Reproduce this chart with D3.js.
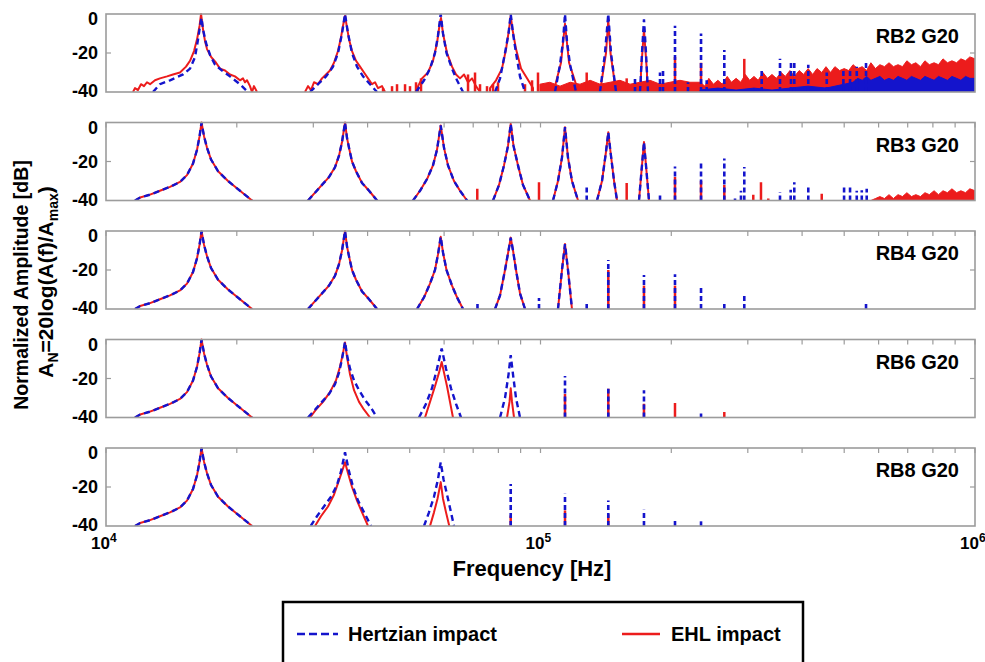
<!DOCTYPE html>
<html><head><meta charset="utf-8">
<script src="https://cdn.jsdelivr.net/npm/d3@7"></script>
<style>
body{margin:0;background:#fff}
svg{display:block}
text{font-family:Arial,"Liberation Sans",Helvetica,sans-serif;font-weight:bold;fill:#000}
</style>
</head><body>
<svg id="c" width="985" height="662"></svg>
<script>
// ---------------- DATA ----------------
const panelNames = ["RB2 G20", "RB3 G20", "RB4 G20", "RB6 G20", "RB8 G20"];
const yTickValues = [0, -20, -40];
const xTickLabels = [{v: 1e4, base: "10", exp: "4"}, {v: 1e5, base: "10", exp: "5"}, {v: 1e6, base: "10", exp: "6"}];
const seriesNames = ["Hertzian impact", "EHL impact"];

// shared peak shapes [frequency Hz, dB]
const peak1Shape = [[1.166e4,-40],[1.198e4,-38.5],[1.263e4,-37],[1.331e4,-35],[1.404e4,-33],[1.480e4,-30.5],[1.536e4,-27],[1.586e4,-21],[1.620e4,-14],[1.642e4,-7],[1.659e4,0],[1.681e4,-7],[1.708e4,-13],[1.745e4,-19],[1.811e4,-25],[1.909e4,-30],[2.034e4,-35],[2.168e4,-40]];
const peak2Shape = [[2.917e4,-40],[3.027e4,-36],[3.141e4,-32],[3.260e4,-28],[3.365e4,-23],[3.438e4,-17],[3.493e4,-10],[3.549e4,0],[3.587e4,-8],[3.625e4,-13],[3.683e4,-20],[3.762e4,-25],[3.884e4,-31],[4.031e4,-35],[4.205e4,-40]];

// RB2
const rb2HertzCurves = [
  [[1.2828e4,-40],[1.331e4,-36],[1.404e4,-34],[1.5041e4,-31],[1.5610e4,-28],[1.6030e4,-22],[1.6288e4,-13],[1.6462e4,-6],[1.659e4,-2],[1.6725e4,-8],[1.6994e4,-15],[1.7358e4,-21],[1.7823e4,-26],[1.8496e4,-29],[1.9289e4,-32],[2.034e4,-36],[2.1222e4,-40]],
  [[2.9478e4,-40],[3.0756e4,-36],[3.2087e4,-32],[3.3300e4,-27],[3.4195e4,-20],[3.493e4,-10],[3.549e4,0],[3.6060e4,-10],[3.683e4,-20],[3.7819e4,-27],[3.9043e4,-32],[4.0518e4,-36],[4.205e4,-40]],
  [[5.170e4,-40],[5.394e4,-34],[5.568e4,-28],[5.717e4,-20],[5.809e4,-11],[5.893e4,0],[5.965e4,-10],[6.077e4,-20],[6.257e4,-28],[6.425e4,-34],[6.633e4,-40]],
  [[7.859e4,-40],[8.070e4,-33],[8.286e4,-20],[8.441e4,-10],[8.540e4,0],[8.645e4,-10],[8.783e4,-20],[8.971e4,-32],[9.212e4,-40]],
  [[1.0798e5,-40],[1.1089e5,-26],[1.1267e5,-14],[1.1386e5,0],[1.1506e5,-14],[1.1695e5,-26],[1.2072e5,-40]],
  [[1.3706e5,-40],[1.4075e5,-20],[1.4322e5,0],[1.4529e5,-20],[1.4923e5,-40]],
  [[1.6943e5,-40],[1.7124e5,-20],[1.7304e5,-2.7],[1.7490e5,-20],[1.7676e5,-40]]
];
const rb2EhlCurves = [
  [[1.1538e4,-40],[1.166e4,-38],[1.1848e4,-39],[1.2037e4,-36],[1.2230e4,-37],[1.2426e4,-35],[1.263e4,-36],[1.2965e4,-34],[1.331e4,-33],[1.3819e4,-32],[1.4261e4,-31],[1.480e4,-30],[1.5282e4,-27],[1.5610e4,-24],[1.5945e4,-19],[1.620e4,-13],[1.642e4,-6],[1.6549e4,0],[1.6725e4,-8],[1.6904e4,-14],[1.708e4,-18],[1.745e4,-22],[1.7917e4,-25],[1.8301e4,-28],[1.8793e4,-29],[1.9289e4,-31],[1.9807e4,-32],[2.034e4,-34],[2.0667e4,-33],[2.0887e4,-35],[2.1110e4,-34],[2.1448e4,-37],[2.168e4,-40],[2.1907e4,-37],[2.2259e4,-40]],
  [[2.8708e4,-40],[2.917e4,-37],[2.9635e4,-39],[3.0110e4,-35],[3.0756e4,-36],[3.141e4,-33],[3.2087e4,-31],[3.2775e4,-29],[3.3477e4,-25],[3.4195e4,-19],[3.4743e4,-12],[3.5113e4,-6],[3.549e4,-1],[3.587e4,-7],[3.625e4,-13],[3.683e4,-19],[3.762e4,-24],[3.8427e4,-27],[3.9251e4,-30],[4.0091e4,-33],[4.0950e4,-36],[4.1606e4,-35],[4.2272e4,-38],[4.3178e4,-37],[4.3870e4,-40]],
  [[5.225e4,-40],[5.225e4,-37],[5.337e4,-33],[5.509e4,-30],[5.657e4,-24],[5.778e4,-15],[5.871e4,-4],[5.902e4,-2],[5.965e4,-10],[6.093e4,-20],[6.257e4,-27],[6.391e4,-31],[6.528e4,-33],[6.668e4,-31],[6.811e4,-35],[6.957e4,-33],[7.104e4,-37],[7.258e4,-40]],
  [[7.654e4,-40],[7.654e4,-38],[7.901e4,-34],[8.155e4,-28],[8.330e4,-18],[8.463e4,-8],[8.540e4,-1],[8.622e4,-8],[8.783e4,-18],[9.019e4,-28],[9.310e4,-33],[9.611e4,-38],[9.611e4,-40]],
  [[1.0798e5,-40],[1.0798e5,-37],[1.1148e5,-25],[1.1386e5,-5],[1.1633e5,-25],[1.2072e5,-36],[1.2072e5,-40]],
  [[1.3706e5,-40],[1.4150e5,-20],[1.4322e5,-3],[1.4491e5,-20],[1.4923e5,-40]],
  [[1.703e5,-40],[1.703e5,-30],[1.7304e5,-8],[1.7582e5,-30],[1.7582e5,-40]]
];
const rb2HertzSpikes = [[1.6500e5,-33],[1.8839e5,-30],[1.9141e5,-29],[2.0396e5,-6],[2.1852e5,-35],[2.3413e5,-10],[2.4129e5,-34],[2.6486e5,-18.5],[3.2288e5,-28],[3.558e5,-23],[3.7713e5,-25],[3.8378e5,-24],[4.1331e5,-26],[4.5582e5,-30],[4.9783e5,-28],[5.1573e5,-29],[5.3436e5,-27],[5.613e5,-24]];
const rb2EhlSpikes = [[4.341e4,-38],[4.553e4,-37],[4.675e4,-36],[4.878e4,-36],[5.008e4,-37],[5.170e4,-35],[5.309e4,-33],[6.811e4,-31],[7.068e4,-30],[7.258e4,-36],[7.532e4,-37],[7.776e4,-36],[7.985e4,-35],[9.212e4,-36],[9.562e4,-34],[9.868e4,-30],[1.2774e5,-30],[1.5788e5,-33],[2.0396e5,-22],[2.3413e5,-25],[2.9445e5,-23]];
const rb2EhlNoise = [[9.97e4,-40],[9.97e4,-36],[1.051e5,-35],[1.109e5,-37],[1.170e5,-35],[1.233e5,-36],[1.301e5,-34],[1.371e5,-36],[1.446e5,-35],[1.524e5,-34],[1.607e5,-36],[1.694e5,-35],[1.787e5,-34],[1.884e5,-36],[1.986e5,-35],[2.094e5,-34],[2.208e5,-35],
  [2.33e5,-35],[2.39e5,-37],[2.44e5,-33],[2.50e5,-36],[2.56e5,-34],[2.62e5,-36],[2.69e5,-32],[2.75e5,-35],[2.82e5,-33],[2.89e5,-35],[2.96e5,-31],[3.03e5,-34],[3.10e5,-32],[3.17e5,-34],[3.25e5,-30],[3.33e5,-33],[3.41e5,-31],[3.49e5,-33],[3.58e5,-30],[3.66e5,-32],[3.75e5,-29],[3.84e5,-32],[3.94e5,-29],[4.03e5,-31],[4.13e5,-28],[4.23e5,-31],[4.33e5,-28],[4.44e5,-30],[4.54e5,-27],[4.65e5,-30],[4.76e5,-27],[4.88e5,-29],[5.00e5,-28],[5.12e5,-29],[5.24e5,-26],[5.37e5,-28],[5.50e5,-27],[5.63e5,-29],[5.76e5,-25],[5.90e5,-28],[6.04e5,-26],[6.19e5,-27],[6.34e5,-25],[6.49e5,-27],[6.65e5,-26],[6.81e5,-27],[6.97e5,-24],[7.14e5,-26],[7.31e5,-25],[7.49e5,-27],[7.67e5,-24],[7.85e5,-26],[8.05e5,-25],[8.24e5,-26],[8.44e5,-23],[8.64e5,-25],[8.85e5,-24],[9.07e5,-25],[9.28e5,-23],[9.51e5,-24],[9.73e5,-22],[1.0e6,-23],[1.0e6,-40]];
const rb2HertzNoise = [[2.33e5,-40],[2.33e5,-39],[2.56e5,-38],[2.82e5,-39],[3.10e5,-38],[3.41e5,-39],[3.75e5,-38],[4.13e5,-37],[4.54e5,-38],[5.00e5,-36],[5.24e5,-35],[5.37e5,-33],[5.50e5,-34],[5.63e5,-32],[5.76e5,-34],[5.90e5,-33],[6.04e5,-32],[6.19e5,-34],[6.34e5,-33],[6.49e5,-34],[6.65e5,-32],[6.81e5,-33],[6.97e5,-34],[7.14e5,-32],[7.31e5,-33],[7.49e5,-34],[7.67e5,-32],[7.85e5,-33],[8.05e5,-34],[8.24e5,-32],[8.44e5,-33],[8.64e5,-34],[8.85e5,-32],[9.07e5,-33],[9.28e5,-34],[9.51e5,-32],[9.73e5,-33],[1.0e6,-33],[1.0e6,-40]];

// RB3
const rb3Peak3 = [[5.089e4,-40],[5.281e4,-35],[5.481e4,-29],[5.657e4,-22],[5.778e4,-14],[5.893e4,-1.5],[5.997e4,-13],[6.125e4,-22],[6.322e4,-30],[6.528e4,-35],[6.775e4,-40]];
const rb3Peak4 = [[7.776e4,-40],[8.027e4,-32],[8.241e4,-22],[8.418e4,-12],[8.540e4,-0.7],[8.668e4,-12],[8.876e4,-22],[9.114e4,-32],[9.459e4,-40]];
const rb3Peak5 = [[1.0685e5,-40],[1.0971e5,-30],[1.1206e5,-18],[1.1386e5,-2.4],[1.1568e5,-18],[1.1815e5,-30],[1.2201e5,-40]];
const rb3Peak6 = [[1.3490e5,-40],[1.3854e5,-30],[1.4150e5,-15],[1.4322e5,-5],[1.4491e5,-15],[1.4766e5,-30],[1.5002e5,-40]];
const rb3Peak7 = [[1.6853e5,-40],[1.7304e5,-10],[1.7770e5,-40]];
const rb3HertzSpikes = [[1.2774e5,-33],[1.8839e5,-36.6],[2.0396e5,-22.5],[2.3413e5,-20.3],[2.6486e5,-18.5],[2.8034e5,-39],[2.8933e5,-35],[2.9445e5,-22.8],[3.558e5,-35.6],[3.7653e5,-34.5],[3.8378e5,-30.6],[4.1331e5,-32.8],[4.9968e5,-32.8],[5.1573e5,-32.8],[5.3436e5,-35],[5.4879e5,-34.7],[5.6337e5,-34]];
const rb3EhlSpikes = [[7.153e4,-34],[9.921e4,-30.6],[1.5788e5,-31],[2.0396e5,-28],[2.3413e5,-30],[2.6486e5,-32],[3.0883e5,-37],[3.2169e5,-30.6],[3.3437e5,-39],[4.4386e5,-36.6]];
const rb3EhlNoise = [[5.76e5,-40],[5.90e5,-39],[6.04e5,-38],[6.19e5,-39],[6.34e5,-37],[6.49e5,-39],[6.65e5,-37],[6.81e5,-38],[6.97e5,-36],[7.14e5,-38],[7.31e5,-37],[7.49e5,-38],[7.67e5,-36],[7.85e5,-37],[8.05e5,-35],[8.24e5,-37],[8.44e5,-35],[8.64e5,-36],[8.85e5,-34],[9.07e5,-36],[9.28e5,-35],[9.51e5,-36],[9.73e5,-34],[1.0e6,-35],[1.0e6,-40]];

// RB4
const rb4Peak3 = [[5.198e4,-40],[5.394e4,-34],[5.568e4,-27],[5.717e4,-20],[5.809e4,-12],[5.893e4,-3],[5.965e4,-11],[6.077e4,-20],[6.257e4,-28],[6.425e4,-34],[6.633e4,-40]];
const rb4Peak4 = [[7.859e4,-40],[8.070e4,-33],[8.286e4,-20],[8.441e4,-10],[8.540e4,-3.4],[8.645e4,-10],[8.783e4,-20],[8.971e4,-32],[9.212e4,-40]];
const rb4Peak5 = [[1.0971e5,-40],[1.1206e5,-20],[1.1386e5,-6.7],[1.1568e5,-20],[1.1815e5,-40]];
const rb4HertzSpikes = [[7.161e4,-36],[9.921e4,-34.4],[1.2774e5,-37],[1.4322e5,-14.9],[1.7304e5,-22.6],[2.0396e5,-22.2],[2.3413e5,-28.6],[2.6486e5,-37.4],[2.9445e5,-32.5],[5.613e5,-37.4]];
const rb4EhlSpikes = [[1.4322e5,-20],[1.7304e5,-28],[2.0396e5,-28]];

// RB6
const rb6HertzPeak2 = [[2.917e4,-40],[3.027e4,-36],[3.141e4,-32],[3.260e4,-28],[3.365e4,-23],[3.438e4,-17],[3.493e4,-10],[3.549e4,-1.2],[3.587e4,-8],[3.6445e4,-15],[3.7223e4,-21],[3.8224e4,-26],[3.9459e4,-31],[4.0734e4,-35],[4.205e4,-40]];
const rb6EhlPeak2 = [[2.9478e4,-40],[3.0427e4,-36],[3.1582e4,-32],[3.2775e4,-27],[3.3826e4,-21],[3.4558e4,-14],[3.5113e4,-7],[3.549e4,-1.5],[3.587e4,-9],[3.6445e4,-18],[3.7223e4,-26],[3.8224e4,-32],[3.9251e4,-36],[4.0518e4,-40]];
const rb6HertzPeak3 = [[5.253e4,-40],[5.452e4,-33],[5.627e4,-25],[5.778e4,-15],[5.924e4,-4.6],[6.061e4,-15],[6.223e4,-25],[6.391e4,-33],[6.562e4,-40]];
const rb6EhlPeak3 = [[5.423e4,-40],[5.568e4,-32],[5.717e4,-24],[5.840e4,-17],[5.924e4,-11.5],[5.997e4,-17],[6.093e4,-24],[6.190e4,-32],[6.289e4,-40]];
const rb6HertzPeak4 = [[8.070e4,-40],[8.286e4,-30],[8.441e4,-18],[8.540e4,-8],[8.645e4,-18],[8.783e4,-30],[8.971e4,-40]];
const rb6EhlPeak4 = [[8.374e4,-40],[8.486e4,-32],[8.540e4,-25],[8.599e4,-32],[8.691e4,-40]];
const rb6HertzSpikes = [[1.1386e5,-18.7],[1.4322e5,-25.2],[1.7304e5,-26],[2.3413e5,-38]];
const rb6EhlSpikes = [[1.1386e5,-28],[1.4322e5,-25.2],[1.7304e5,-33],[2.0396e5,-32.5],[2.6486e5,-37.2]];

// RB8
const rb8HertzPeak2 = [[2.9588e4,-40],[3.0590e4,-35],[3.1745e4,-30],[3.2950e4,-25],[3.4014e4,-19],[3.4743e4,-12],[3.549e4,-2.2],[3.625e4,-12],[3.7027e4,-20],[3.8022e4,-27],[3.9251e4,-33],[4.0734e4,-40]];
const rb8EhlPeak2 = [[3.027e4,-40],[3.1244e4,-35],[3.2433e4,-30],[3.3477e4,-24],[3.4195e4,-18],[3.493e4,-12],[3.549e4,-7.3],[3.6060e4,-13],[3.683e4,-20],[3.7819e4,-27],[3.884e4,-33],[4.0091e4,-40]];
const rb8HertzPeak3 = [[5.394e4,-40],[5.538e4,-33],[5.687e4,-25],[5.809e4,-16],[5.893e4,-7.3],[5.981e4,-16],[6.109e4,-25],[6.223e4,-33],[6.322e4,-40]];
const rb8EhlPeak3 = [[5.568e4,-40],[5.687e4,-33],[5.794e4,-26],[5.893e4,-17.5],[5.965e4,-26],[6.061e4,-33],[6.167e4,-40]];
const rb8HertzSpikes = [[8.540e4,-18.4],[1.1386e5,-23.5],[1.4322e5,-26.9],[1.7304e5,-31.7],[2.0396e5,-36.7],[2.3413e5,-37.6]];
const rb8EhlSpikes = [[8.540e4,-34.6],[1.1386e5,-32],[1.4322e5,-34]];

// ---------------- PANELS ----------------
const panels = [
  {name: panelNames[0], hertz: rb2HertzCurves, ehl: rb2EhlCurves, hertzSpikes: rb2HertzSpikes, ehlSpikes: rb2EhlSpikes, hertzNoise: rb2HertzNoise, ehlNoise: rb2EhlNoise, xTicks: false},
  {name: panelNames[1], hertz: [peak1Shape, peak2Shape, rb3Peak3, rb3Peak4, rb3Peak5, rb3Peak6, rb3Peak7], ehl: [peak1Shape, peak2Shape, rb3Peak3, rb3Peak4, rb3Peak5, rb3Peak6, rb3Peak7], hertzSpikes: rb3HertzSpikes, ehlSpikes: rb3EhlSpikes, hertzNoise: null, ehlNoise: rb3EhlNoise, xTicks: true},
  {name: panelNames[2], hertz: [peak1Shape, peak2Shape, rb4Peak3, rb4Peak4, rb4Peak5], ehl: [peak1Shape, peak2Shape, rb4Peak3, rb4Peak4, rb4Peak5], hertzSpikes: rb4HertzSpikes, ehlSpikes: rb4EhlSpikes, hertzNoise: null, ehlNoise: null, xTicks: true},
  {name: panelNames[3], hertz: [peak1Shape, rb6HertzPeak2, rb6HertzPeak3, rb6HertzPeak4], ehl: [peak1Shape, rb6EhlPeak2, rb6EhlPeak3, rb6EhlPeak4], hertzSpikes: rb6HertzSpikes, ehlSpikes: rb6EhlSpikes, hertzNoise: null, ehlNoise: null, xTicks: true},
  {name: panelNames[4], hertz: [peak1Shape, rb8HertzPeak2, rb8HertzPeak3], ehl: [peak1Shape, rb8EhlPeak2, rb8EhlPeak3], hertzSpikes: rb8HertzSpikes, ehlSpikes: rb8EhlSpikes, hertzNoise: null, ehlNoise: null, xTicks: true}
];

// ---------------- DRAW ----------------
const BLUE = "#1414cc", RED = "#ec1c1c", FRAME = "#9c9c9c";
const L = 106, R = 975, TOP0 = 14, STEP = 108.5, H = 78;
const svg = d3.select("#c");
const x = d3.scaleLog().domain([1e4, 1e6]).range([L, R]);
const defs = svg.append("defs");

panels.forEach((p, i) => {
  const top = TOP0 + i * STEP;
  const y = d3.scaleLinear().domain([-40, 0]).range([top + H, top]);
  const g = svg.append("g");
  defs.append("clipPath").attr("id", "clip" + i)
    .append("rect").attr("x", L).attr("y", top - 3).attr("width", R - L).attr("height", H + 3);
  const plot = g.append("g").attr("clip-path", `url(#clip${i})`);
  const line = d3.line().x(d => x(d[0])).y(d => y(d[1]));
  const area = d3.area().x(d => x(d[0])).y0(y(-40)).y1(d => y(d[1]));

  // EHL (red, solid) underneath
  if (p.ehlNoise) plot.append("path").attr("d", area(p.ehlNoise)).attr("fill", RED).attr("stroke", RED).attr("stroke-width", 1);
  p.ehl.forEach(c => plot.append("path").attr("d", line(c)).attr("fill", "none").attr("stroke", RED).attr("stroke-width", 2).attr("stroke-linejoin", "round"));
  plot.selectAll(null).data(p.ehlSpikes).join("line")
    .attr("x1", d => x(d[0])).attr("x2", d => x(d[0]))
    .attr("y1", y(-40)).attr("y2", d => y(d[1]))
    .attr("stroke", RED).attr("stroke-width", 2.5);

  // Hertzian (blue, dashed) on top
  if (p.hertzNoise) plot.append("path").attr("d", area(p.hertzNoise)).attr("fill", BLUE).attr("stroke", BLUE).attr("stroke-width", 1);
  p.hertz.forEach(c => plot.append("path").attr("d", line(c)).attr("fill", "none").attr("stroke", BLUE).attr("stroke-width", 2.4).attr("stroke-dasharray", "6,4"));
  plot.selectAll(null).data(p.hertzSpikes).join("line")
    .attr("x1", d => x(d[0])).attr("x2", d => x(d[0]))
    .attr("y1", y(-40)).attr("y2", d => y(d[1]))
    .attr("stroke", BLUE).attr("stroke-width", 2.6).attr("stroke-dasharray", "5,3");

  // frame
  g.append("rect").attr("x", L).attr("y", top).attr("width", R - L).attr("height", H)
    .attr("fill", "none").attr("stroke", FRAME).attr("stroke-width", 1.6);

  // x minor ticks on top edge
  if (p.xTicks) {
    g.selectAll(null).data(x.ticks()).join("line")
      .attr("x1", d => x(d)).attr("x2", d => x(d))
      .attr("y1", top).attr("y2", top + 5)
      .attr("stroke", FRAME).attr("stroke-width", 1.2);
  }
  // y ticks (inward, both sides)
  g.selectAll(null).data([-20]).join("line")
    .attr("x1", L).attr("x2", L + 5).attr("y1", d => y(d)).attr("y2", d => y(d))
    .attr("stroke", FRAME).attr("stroke-width", 1.2);
  g.selectAll(null).data([-20]).join("line")
    .attr("x1", R - 5).attr("x2", R).attr("y1", d => y(d)).attr("y2", d => y(d))
    .attr("stroke", FRAME).attr("stroke-width", 1.2);

  // y tick labels
  g.selectAll(null).data(yTickValues).join("text")
    .attr("x", 98)
    .attr("y", d => y(d) + (d === 0 ? 5 : (d === -40 ? -1 : 0)))
    .attr("text-anchor", "end").attr("dominant-baseline", "central")
    .style("font-size", "18px")
    .text(d => d);

  // panel label
  g.append("text").attr("x", 959).attr("y", top + 29).attr("text-anchor", "end")
    .style("font-size", "20px").text(p.name);
});

// x tick labels (powers of ten)
const xl = svg.append("g");
xTickLabels.forEach(t => {
  const tx = xl.append("text").attr("x", x(t.v) - 15).attr("y", 549).style("font-size", "17px");
  tx.append("tspan").text(t.base);
  tx.append("tspan").attr("dy", -7).style("font-size", "12px").text(t.exp);
});

// x-axis title
svg.append("text").attr("x", 532).attr("y", 576).attr("text-anchor", "middle")
  .style("font-size", "22px").text("Frequency [Hz]");

// y-axis title (two lines, rotated)
svg.append("text").attr("transform", "translate(28,285) rotate(-90)").attr("text-anchor", "middle")
  .style("font-size", "19.5px").text("Normalized Amplitude [dB]");
const yt2 = svg.append("text").attr("transform", "translate(53,282) rotate(-90)").attr("text-anchor", "middle")
  .style("font-size", "21px");
yt2.append("tspan").text("A");
yt2.append("tspan").attr("dy", 5).style("font-size", "14px").text("N");
yt2.append("tspan").attr("dy", -5).text("=20log(A(f)/A");
yt2.append("tspan").attr("dy", 5).style("font-size", "14px").text("max");
yt2.append("tspan").attr("dy", -5).text(")");

// legend
const lg = svg.append("g");
lg.append("rect").attr("x", 283).attr("y", 602).attr("width", 520).attr("height", 90)
  .attr("fill", "#fff").attr("stroke", "#000").attr("stroke-width", 2.5);
lg.append("line").attr("x1", 297).attr("x2", 338).attr("y1", 634).attr("y2", 634)
  .attr("stroke", BLUE).attr("stroke-width", 2.6).attr("stroke-dasharray", "8,4");
lg.append("text").attr("x", 348).attr("y", 641).style("font-size", "20px").text(seriesNames[0]);
lg.append("line").attr("x1", 622).attr("x2", 660).attr("y1", 634).attr("y2", 634)
  .attr("stroke", RED).attr("stroke-width", 2.6);
lg.append("text").attr("x", 671).attr("y", 641).style("font-size", "20px").text(seriesNames[1]);
</script>
</body></html>
